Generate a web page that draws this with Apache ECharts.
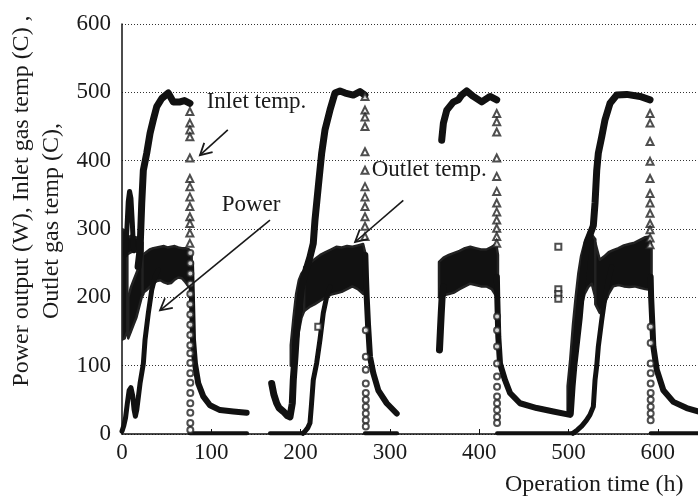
<!DOCTYPE html>
<html><head><meta charset="utf-8">
<script src="https://cdn.jsdelivr.net/npm/echarts@6/dist/echarts.min.js"></script>
<style>html,body{margin:0;padding:0;background:#fff}#c{width:698px;height:503px}</style>
</head><body><div id="c"></div>
<script>
// ---- axes ----
const xTicks = [0, 100, 200, 300, 400, 500, 600];
const xMax = 645;
const yTicks = [0, 100, 200, 300, 400, 500, 600];

// ---- cycle 1 ----
const inlet1 = [[18,245],[20.2,269],[22.1,338],[23.9,386],[27.7,411],[31.4,440],[35.1,460],[38.9,479],[44.5,491],[51.8,499],[57.5,486],[65,486],[70,488],[76.1,484]];
const inletDrop1 = [[76,472],[76,455],[76,445],[76,435],[76,404],[76,374],[76,362],[76,347],[76,333],[76,318],[76,308],[76,294],[76,279]];
const outletSpike1 = [[4,262],[5.5,300],[7,340],[8.5,355],[10,345],[11.5,310],[13,268]];
const outletRise1 = [[0,4],[2,12],[4,24],[6,45],[8,64],[10,68],[12,56],[13.5,36],[15,26],[16.5,35],[20.2,74],[23.9,103],[25.8,138],[29.5,177],[33.3,211],[37,230],[40.6,240]];
const outletDecay1 = [[77.3,250],[78.4,196],[79.5,138],[81.7,103],[85.4,74],[91,55],[98.5,42],[109.7,35],[124.6,33],[139.6,31]];
const outletDrop1 = [[76.5,265],[76.5,250],[76.5,235],[76.5,220],[76.5,205],[76.5,190],[76.5,175],[76.5,160],[76.5,145],[76.5,130],[76.5,118],[76.5,104],[76.5,89],[76.5,75],[76.5,60],[76.5,45],[76.5,31],[76.5,16],[76.5,6]];
// power clouds: [hour, low, high]
const powerCol1 = [[0,138,300],[3,140,298],[6,150,292]];
const powerTop1 = [[5,262,286],[10,266,290],[15,268,288],[20,264,286],[23,260,280]];
const powerBand1 = [[7,140,200],[10,150,215],[13,160,225],[16,170,235],[19,185,245],[22,200,255],[24,205,262]];
const powerCloud1 = [[23,206,262],[27,210,266],[31,215,270],[35,220,272],[39,224,273],[43,225,274],[47,222,275],[51,220,273],[55,221,274],[59,226,275],[63,229,273],[67,228,272],[71,222,272],[75,215,270],[78,220,262]];
const powerOff1 = [[76,1],[140,1]];

// ---- cycle 2 ----
const inlet2 = [[167.6,74],[170,58],[173.2,45],[176,38],[180.6,33],[185,27],[188.1,25],[190,27],[190.7,45],[191.8,79],[193.7,113],[195.6,152],[198.5,186],[201.2,216],[204.9,235],[210.5,259],[214.2,279],[216.1,313],[219.8,362],[223.6,411],[227.3,445],[232.9,474],[238.5,499],[244.1,502],[250,499],[259,496],[266.5,501],[272,496]];
const inletDrop2 = [[272.1,494],[272.1,474],[272.1,464],[272.1,450],[272.1,413],[272.1,386],[272.1,362],[272.1,347],[272.1,333],[272.1,318],[272.1,304],[272.1,289]];
const outletRise2 = [[202.7,1],[205,4],[208,9],[210.5,16],[212,40],[214.2,79],[218,104],[221.7,138],[225.4,177],[229.2,201],[233,215]];
const outletDecay2 = [[272.5,262],[273.2,230],[274,201],[275.5,160],[277.7,113],[281.4,89],[287,64],[296.4,45],[307.6,30]];
const outletDrop2 = [[273,152],[273,113],[273,94],[273,74],[273,60],[273,50],[273,40],[273,30],[273,20],[273,11]];
const powerBand2 = [[189,100,130],[192,110,170],[195,125,205],[198,150,225],[201,170,235],[204,180,240]];
const powerCloud2 = [[204,180,244],[210,186,250],[216,190,256],[222,195,262],[228,200,266],[234,204,270],[240,206,274],[246,208,273],[252,212,275],[258,216,274],[264,212,276],[270,205,278],[273,215,262]];
const powerOn2 = [[165.7,1],[202.7,1]];
const powerOff2 = [[272,1],[308,1]];
const powerStray2 = [[219.8,157]];

// ---- cycle 3 ----
const inlet3 = [[358,430],[359.9,455],[363.7,474],[371.1,486],[376.7,489],[380.4,496],[386,502],[393.4,494],[402.8,486],[412.1,494],[419.6,489]];
const inletDrop3 = [[419.6,469],[419.6,457],[419.6,442],[419.6,404],[419.6,377],[419.6,355],[419.6,338],[419.6,325],[419.6,313],[419.6,301],[419.6,289],[419.6,279]];
const outletRise3 = [[355.5,123],[356.5,150],[357.5,177],[358.5,201],[360,215]];
const outletDecay3 = [[419.8,230],[420.2,201],[421.4,142],[423.3,103],[428.9,79],[434.5,60],[445.7,45],[464.4,38],[483,33],[501.7,28]];
const outletDrop3 = [[420,172],[420,152],[420,128],[420,103],[420,84],[420,69],[420,55],[420,45],[420,35],[420,25],[420,16]];
const powerCloud3 = [[355,200,252],[360,203,258],[366,205,262],[372,207,265],[378,212,268],[384,216,272],[390,220,274],[396,218,272],[402,216,270],[408,216,270],[414,212,274],[419,202,278],[421,215,262]];
const powerOff3 = [[420,1],[505,1]];
const powerStray3 = [[488.6,274],[488.6,212],[488.6,205],[488.6,198]];

// ---- cycle 4 ----
const inlet4 = [[502,30],[504,70],[506,100],[509,135],[512,170],[515,215],[518,255],[521,282],[525,295],[527.8,305],[529.7,338],[531.6,386],[533.4,411],[537.2,435],[540.9,460],[546.5,484],[554,496],[565.2,497],[580.1,494],[591.3,489]];
const inletDrop4 = [[591.3,469],[591.3,455],[591.3,428],[591.3,399],[591.3,374],[591.3,352],[591.3,338],[591.3,323],[591.3,308],[591.3,299],[591.3,287],[591.3,277]];
const outletRise4 = [[505,1],[510,6],[515,12],[520,20],[524,28],[527.8,40],[529.7,79],[531.6,100],[533.4,128],[537.2,167],[540.9,201],[544.6,225],[548.3,245]];
const outletDecay4 = [[592,230],[592.5,201],[595,128],[598.8,94],[606.2,64],[617.4,47],[632.3,38],[645,33]];
const outletDrop4 = [[592,157],[592,133],[592,103],[592,89],[592,74],[592,60],[592,50],[592,40],[592,30],[592,20]];
const powerBand4 = [[499,30,70],[502,40,110],[505,70,160],[508,110,200],[511,160,235],[514,185,260],[518,205,280],[522,215,290],[526,220,292],[530,200,285]];
const powerCloud4 = [[530,190,280],[535,177,255],[540,190,260],[545,205,266],[550,216,269],[556,218,272],[562,216,276],[568,215,278],[574,216,280],[580,214,284],[586,212,288],[591,211,289],[593,220,270]];
const powerOff4 = [[592,1],[645,1]];

// ---- annotations (data coordinates) ----
const labelTexts = ['Inlet temp.', 'Power', 'Outlet temp.'];
const labelAt = [[94.8,486],[111.6,335],[279.6,386]];
const arrowFrom = [[118.5,445],[165.7,313],[315,342]];
const arrowTo = [[87.3,408],[42.6,181],[261,281]];
const yTitle = ['Power output (W), Inlet gas temp (C) ,', 'Outlet gas temp (C),'];
const xTitle = 'Operation time (h)';

// ---- styling / assembly ----
const FONT = '"Liberation Serif", "Times New Roman", serif';
const INK = '#111';
function curve(name, data, w) {
  return {type:'line', name, data, showSymbol:false, silent:true, clip:true,
    lineStyle:{color:INK, width:w, cap:'round', join:'round'}, z:3};
}
function marks(name, data, sym, size) {
  return {type:'scatter', name, data, symbol:sym, symbolSize:size, silent:true,
    itemStyle:{color:'#222', borderWidth:1.2}, z:4};
}
function cloud(name, arr) {
  return {type:'custom', name, data:arr, silent:true, clip:true, z:2,
    encode:{x:0, y:[1,2]},
    renderItem(params, api) {
      if (params.dataIndex !== 0) return null;
      const top = arr.map(d => api.coord([d[0], d[2]]));
      const bot = arr.map(d => api.coord([d[0], d[1]])).reverse();
      return {type:'polygon', shape:{points:top.concat(bot)},
        style:{fill:INK, stroke:'#222', lineWidth:2.5, lineJoin:'round'}};
    }};
}
const series = [
  curve('Inlet temp', inlet1, 7), curve('Inlet temp', inlet2, 7), curve('Inlet temp', inlet3, 7), curve('Inlet temp', inlet4, 7),
  marks('Inlet temp', inletDrop1, 'emptyTriangle', 7), marks('Inlet temp', inletDrop2, 'emptyTriangle', 7),
  marks('Inlet temp', inletDrop3, 'emptyTriangle', 7), marks('Inlet temp', inletDrop4, 'emptyTriangle', 7),
  curve('Outlet temp', outletSpike1, 5), curve('Outlet temp', outletRise1, 5), curve('Outlet temp', outletDecay1, 6),
  curve('Outlet temp', outletRise2, 5), curve('Outlet temp', outletDecay2, 6),
  curve('Outlet temp', outletRise3, 7), curve('Outlet temp', outletDecay3, 6),
  curve('Outlet temp', outletRise4, 5), curve('Outlet temp', outletDecay4, 6),
  marks('Outlet temp', outletDrop1, 'emptyCircle', 6), marks('Outlet temp', outletDrop2, 'emptyCircle', 6),
  marks('Outlet temp', outletDrop3, 'emptyCircle', 6), marks('Outlet temp', outletDrop4, 'emptyCircle', 6),
  cloud('Power', powerCol1), cloud('Power', powerTop1), cloud('Power', powerBand1), cloud('Power', powerCloud1),
  curve('Power', powerOff1, 4),
  cloud('Power', powerBand2), cloud('Power', powerCloud2), curve('Power', powerOn2, 4), curve('Power', powerOff2, 4),
  cloud('Power', powerCloud3), curve('Power', powerOff3, 4),
  cloud('Power', powerBand4), cloud('Power', powerCloud4), curve('Power', powerOff4, 4),
  marks('Power', powerStray2, 'emptyRect', 6), marks('Power', powerStray3, 'emptyRect', 6)
];

const chart = echarts.init(document.getElementById('c'), null, {renderer:'canvas'});
chart.setOption({
  animation:false,
  backgroundColor:'#fff',
  grid:{left:122, right:0, top:24, bottom:69, containLabel:false},
  xAxis:{type:'value', min:xTicks[0], max:xMax, interval:xTicks[1]-xTicks[0],
    axisLine:{show:true, onZero:false, lineStyle:{color:'#111', width:1.5}},
    axisTick:{show:true, inside:true, length:5, lineStyle:{color:'#111'}},
    axisLabel:{fontFamily:FONT, fontSize:23, color:'#1a1a1a', margin:7, showMaxLabel:false},
    splitLine:{show:false}},
  yAxis:{type:'value', min:yTicks[0], max:yTicks[yTicks.length-1], interval:yTicks[1]-yTicks[0],
    axisLine:{show:true, lineStyle:{color:'#111', width:1.5}},
    axisTick:{show:false},
    axisLabel:{fontFamily:FONT, fontSize:23, color:'#1a1a1a', margin:11},
    splitLine:{show:true, lineStyle:{color:'#333', width:1, type:[1,2]}}},
  series
});

const g = [];
labelTexts.forEach((t, i) => {
  const p = chart.convertToPixel({gridIndex:0}, labelAt[i]);
  g.push({type:'text', x:p[0], y:p[1], z:10, style:{text:t, fontFamily:FONT, fontSize:23, fill:'#1a1a1a', align:'left', verticalAlign:'middle'}});
});
arrowFrom.forEach((f, i) => {
  const a = chart.convertToPixel({gridIndex:0}, f);
  const b = chart.convertToPixel({gridIndex:0}, arrowTo[i]);
  g.push({type:'line', z:10, shape:{x1:a[0], y1:a[1], x2:b[0], y2:b[1]}, style:{stroke:'#1a1a1a', lineWidth:1.6}});
  const ang = Math.atan2(a[1]-b[1], a[0]-b[0]);
  const L = 13, s = 0.5;
  const p1 = [b[0] + L*Math.cos(ang+s), b[1] + L*Math.sin(ang+s)];
  const p2 = [b[0] + L*Math.cos(ang-s), b[1] + L*Math.sin(ang-s)];
  g.push({type:'polyline', z:10, shape:{points:[p1, b, p2]}, style:{stroke:'#1a1a1a', lineWidth:1.8, fill:null}});
});
g.push({type:'text', x:22, y:201, rotation:Math.PI/2, z:10, style:{text:yTitle[0], fontFamily:FONT, fontSize:24, fill:'#1a1a1a', align:'center', verticalAlign:'middle'}});
g.push({type:'text', x:52, y:221, rotation:Math.PI/2, z:10, style:{text:yTitle[1], fontFamily:FONT, fontSize:24, fill:'#1a1a1a', align:'center', verticalAlign:'middle'}});
g.push({type:'text', x:505, y:485, z:10, style:{text:xTitle, fontFamily:FONT, fontSize:24, fill:'#1a1a1a', align:'left', verticalAlign:'middle'}});
chart.setOption({graphic:g});
</script>
</body></html>
